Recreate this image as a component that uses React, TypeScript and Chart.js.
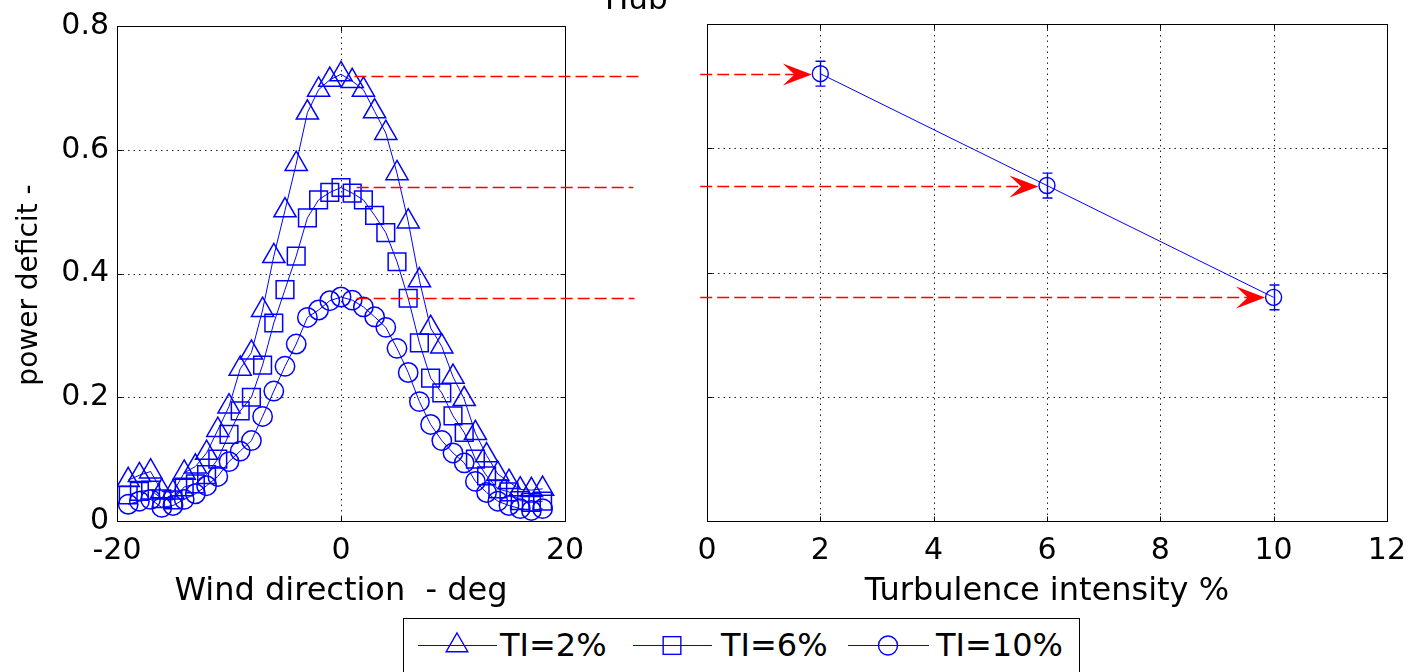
import React, { useEffect, useRef } from "react";
import { Chart, registerables } from "chart.js";

Chart.register(...registerables);

const FONT = '"DejaVu Sans", "Liberation Sans", sans-serif';
const BLUE = "#0000ff";
const RED = "#ff0000";

// ---- left panel: power deficit vs wind direction ----
const windDirection = [-19, -18, -17, -16, -15, -14, -13, -12, -11, -10, -9, -8, -7, -6, -5, -4, -3, -2, -1, 0, 1, 2, 3, 4, 5, 6, 7, 8, 9, 10, 11, 12, 13, 14, 15, 16, 17, 18];
const deficitTI2 = [0.066, 0.074, 0.08, 0.048, 0.046, 0.078, 0.088, 0.11, 0.147, 0.185, 0.246, 0.272, 0.341, 0.428, 0.502, 0.577, 0.66, 0.697, 0.713, 0.722, 0.711, 0.697, 0.662, 0.627, 0.562, 0.484, 0.389, 0.312, 0.282, 0.233, 0.197, 0.142, 0.106, 0.076, 0.063, 0.051, 0.05, 0.052];
const deficitTI6 = [0.042, 0.048, 0.05, 0.036, 0.034, 0.055, 0.06, 0.075, 0.1, 0.14, 0.178, 0.2, 0.252, 0.32, 0.374, 0.428, 0.49, 0.519, 0.531, 0.539, 0.53, 0.519, 0.494, 0.466, 0.419, 0.36, 0.288, 0.231, 0.207, 0.17, 0.143, 0.1, 0.073, 0.052, 0.047, 0.033, 0.03, 0.032];
const deficitTI10 = [0.027, 0.032, 0.035, 0.022, 0.025, 0.035, 0.044, 0.057, 0.072, 0.096, 0.113, 0.13, 0.169, 0.21, 0.25, 0.286, 0.329, 0.341, 0.356, 0.362, 0.357, 0.346, 0.33, 0.313, 0.279, 0.24, 0.193, 0.156, 0.13, 0.11, 0.094, 0.064, 0.046, 0.032, 0.025, 0.02, 0.017, 0.02];
const windTicks = [-20, 0, 20];
const windTickLabels = ["-20", "0", "20"];
const deficitTicks = [0, 0.2, 0.4, 0.6, 0.8];
const deficitTickLabels = ["0", "0.2", "0.4", "0.6", "0.8"];

// ---- right panel: peak deficit vs turbulence intensity ----
const turbulenceIntensity = [2, 6, 10];
const peakDeficit = [0.72, 0.54, 0.36];
const peakDeficitError = [0.02, 0.02, 0.02];
const tiTicks = [0, 2, 4, 6, 8, 10, 12];
const tiTickLabels = ["0", "2", "4", "6", "8", "10", "12"];

// ---- guide arrows (data units of each panel) ----
const guideLeftStart = [1.2, 1.4, 1.4];
const guideLeftEnd = [27, 26.1, 26.2];
const guideRightStart = [-0.12, -0.12, -0.12];

const legendLabels = ["TI=2%", "TI=6%", "TI=10%"];

const px = (v: number) => Math.round(v) + 0.5;

function ys(scales: any, v: number) {
  return Math.round(scales.y.getPixelForValue(v)) + 0.5;
}

const matlabAxesPlugin = {
  id: "matlabAxes",
  beforeDatasetsDraw(chart: any) {
    const { ctx, chartArea: a, scales } = chart;
    const xs = scales.x;
    ctx.save();
    ctx.strokeStyle = "#262626";
    ctx.lineWidth = 1;
    ctx.setLineDash([1.5, 4]);
    for (const t of xs.ticks) {
      const x = px(xs.getPixelForValue(t.value));
      if (x <= a.left + 2 || x >= a.right - 2) continue;
      ctx.beginPath();
      ctx.moveTo(x, a.top);
      ctx.lineTo(x, a.bottom);
      ctx.stroke();
    }
    for (const t of scales.y.ticks) {
      const y = ys(scales, t.value);
      if (y <= a.top + 2 || y >= a.bottom - 2) continue;
      ctx.beginPath();
      ctx.moveTo(a.left, y);
      ctx.lineTo(a.right, y);
      ctx.stroke();
    }
    ctx.restore();
  },
  afterDatasetsDraw(chart: any) {
    const { ctx, chartArea: a, scales } = chart;
    const xs = scales.x;
    const L = px(a.left), R = px(a.right), T = px(a.top), B = px(a.bottom);
    ctx.save();
    ctx.setLineDash([]);
    ctx.strokeStyle = "#000";
    ctx.lineWidth = 1;
    ctx.strokeRect(L, T, R - L, B - T);
    const tl = 5;
    ctx.beginPath();
    for (const t of xs.ticks) {
      const x = px(xs.getPixelForValue(t.value));
      ctx.moveTo(x, B); ctx.lineTo(x, B - tl);
      ctx.moveTo(x, T); ctx.lineTo(x, T + tl);
    }
    for (const t of scales.y.ticks) {
      const y = ys(scales, t.value);
      ctx.moveTo(L, y); ctx.lineTo(L + tl, y);
      ctx.moveTo(R, y); ctx.lineTo(R - tl, y);
    }
    ctx.stroke();
    ctx.restore();
  },
};

const leftGuidesPlugin = {
  id: "leftGuides",
  afterDraw(chart: any) {
    const { ctx, scales } = chart;
    ctx.save();
    ctx.strokeStyle = RED;
    ctx.lineWidth = 1.5;
    ctx.setLineDash([12, 5]);
    peakDeficit.forEach((v, i) => {
      const y = ys(scales, v);
      ctx.beginPath();
      ctx.moveTo(scales.x.getPixelForValue(guideLeftStart[i]), y);
      ctx.lineTo(scales.x.getPixelForValue(guideLeftEnd[i]), y);
      ctx.stroke();
    });
    ctx.restore();
  },
};

const rightExtrasPlugin = {
  id: "rightExtras",
  afterDatasetsDraw(chart: any) {
    const { ctx, scales } = chart;
    ctx.save();
    // error bars
    ctx.strokeStyle = BLUE;
    ctx.lineWidth = 1.4;
    ctx.setLineDash([]);
    turbulenceIntensity.forEach((ti, i) => {
      const x = px(scales.x.getPixelForValue(ti));
      const yTop = scales.y.getPixelForValue(peakDeficit[i] + peakDeficitError[i]);
      const yBot = scales.y.getPixelForValue(peakDeficit[i] - peakDeficitError[i]);
      ctx.beginPath();
      ctx.moveTo(x, yTop); ctx.lineTo(x, yBot);
      ctx.moveTo(x - 5, yTop); ctx.lineTo(x + 5, yTop);
      ctx.moveTo(x - 5, yBot); ctx.lineTo(x + 5, yBot);
      ctx.stroke();
    });
    // guide arrows
    turbulenceIntensity.forEach((ti, i) => {
      const y = ys(scales, peakDeficit[i]);
      const x0 = scales.x.getPixelForValue(guideRightStart[i]);
      const tip = scales.x.getPixelForValue(ti) - 8.5;
      const L = 29, W = 11;
      ctx.strokeStyle = RED;
      ctx.lineWidth = 1.5;
      ctx.setLineDash([12, 5]);
      ctx.beginPath();
      ctx.moveTo(x0, y);
      ctx.lineTo(tip - L * 0.5, y);
      ctx.stroke();
      ctx.setLineDash([]);
      ctx.fillStyle = RED;
      ctx.beginPath();
      ctx.moveTo(tip, y);
      ctx.quadraticCurveTo(tip - L * 0.45, y - W * 0.45, tip - L, y - W);
      ctx.lineTo(tip - L * 0.6, y);
      ctx.lineTo(tip - L, y + W);
      ctx.quadraticCurveTo(tip - L * 0.45, y + W * 0.45, tip, y);
      ctx.closePath();
      ctx.fill();
    });
    ctx.restore();
  },
};

function baseScale(ticks: number[], labels: string[], min: number, max: number, tickSize: number, pad: number) {
  return {
    type: "linear" as const,
    min,
    max,
    afterBuildTicks: (s: any) => {
      s.ticks = ticks.map((v) => ({ value: v }));
    },
    grid: { display: false, drawTicks: false },
    border: { display: false },
    ticks: {
      padding: pad,
      color: "#000",
      font: { family: FONT, size: tickSize },
      maxRotation: 0,
      autoSkip: false,
      callback: (_v: any, i: number) => labels[i],
    },
  };
}

function leftConfig(): any {
  const mk = (label: string, data: number[], style: string, r: number) => ({
    label,
    data: windDirection.map((x, i) => ({ x, y: data[i] })),
    borderColor: BLUE,
    borderWidth: 1,
    pointStyle: style,
    pointRadius: r,
    pointHoverRadius: r,
    pointBorderColor: BLUE,
    pointBorderWidth: 1.5,
    pointBackgroundColor: "rgba(0,0,0,0)",
    fill: false,
    tension: 0,
  });
  return {
    type: "line",
    data: {
      datasets: [
        mk(legendLabels[0], deficitTI2, "triangle", 12.8),
        mk(legendLabels[1], deficitTI6, "rect", 12.5),
        mk(legendLabels[2], deficitTI10, "circle", 9.7),
      ],
    },
    options: {
      responsive: false,
      maintainAspectRatio: false,
      animation: false,
      events: [],
      layout: { padding: { left: 0, top: 24, right: 115, bottom: 51 } },
      plugins: { legend: { display: false }, tooltip: { enabled: false }, title: { display: false } },
      scales: {
        x: {
          ...baseScale(windTicks, windTickLabels, -20, 20, 30, 12),
          afterFit: (s: any) => { s.height = 100; },
          title: {
            display: true,
            text: "Wind direction  - deg",
            color: "#000",
            font: { family: FONT, size: 32 },
            padding: { top: 0, bottom: 10 },
          },
        },
        y: {
          ...baseScale(deficitTicks, deficitTickLabels, 0, 0.8, 30, 8),
          afterFit: (s: any) => { s.width = 117; },
        },
      },
    },
    plugins: [matlabAxesPlugin, leftGuidesPlugin],
  };
}

function rightConfig(): any {
  return {
    type: "line",
    data: {
      datasets: [
        {
          label: "peak deficit",
          data: turbulenceIntensity.map((x, i) => ({ x, y: peakDeficit[i] })),
          borderColor: BLUE,
          borderWidth: 1,
          pointStyle: "circle",
          pointRadius: 8,
          pointHoverRadius: 8,
          pointBorderColor: BLUE,
          pointBorderWidth: 1.4,
          pointBackgroundColor: "rgba(0,0,0,0)",
          fill: false,
          tension: 0,
        },
      ],
    },
    options: {
      responsive: false,
      maintainAspectRatio: false,
      animation: false,
      events: [],
      layout: { padding: { left: 0, top: 24, right: 26, bottom: 51 } },
      plugins: { legend: { display: false }, tooltip: { enabled: false }, title: { display: false } },
      scales: {
        x: {
          ...baseScale(tiTicks, tiTickLabels, 0, 12, 30, 12),
          afterFit: (s: any) => { s.height = 100; },
          title: {
            display: true,
            text: "Turbulence intensity %",
            color: "#000",
            font: { family: FONT, size: 32 },
            padding: { top: 0, bottom: 10 },
          },
        },
        y: {
          ...baseScale(deficitTicks, deficitTickLabels, 0, 0.8, 30, 8),
          ticks: { display: false },
          afterFit: (s: any) => { s.width = 27; },
        },
      },
    },
    plugins: [matlabAxesPlugin, rightExtrasPlugin],
  };
}

export default function App() {
  const leftRef = useRef<HTMLCanvasElement>(null);
  const rightRef = useRef<HTMLCanvasElement>(null);

  useEffect(() => {
    const left = new Chart(leftRef.current as HTMLCanvasElement, leftConfig());
    const right = new Chart(rightRef.current as HTMLCanvasElement, rightConfig());
    return () => {
      left.destroy();
      right.destroy();
    };
  }, []);

  const tri = (cx: number, cy: number, r: number) => {
    const h = r * Math.sqrt(3) / 2;
    return `${cx},${cy - r} ${cx + h},${cy + r / 2} ${cx - h},${cy + r / 2}`;
  };
  const sq = 12.5 * Math.SQRT1_2;

  return (
    <div style={{ position: "fixed", left: 0, top: 0, width: 1418, height: 672, background: "#fff", overflow: "hidden" }}>
      <canvas ref={leftRef} width={680} height={672} style={{ position: "absolute", left: 0, top: 0, width: 680, height: 672 }} />
      <canvas ref={rightRef} width={738} height={672} style={{ position: "absolute", left: 680, top: 0, width: 738, height: 672 }} />
      <svg width={1418} height={672} style={{ position: "absolute", left: 0, top: 0, pointerEvents: "none" }}>
        <text x={605} y={9} fontFamily={FONT} fontSize={31} fill="#000">Hub</text>
        <text transform="translate(37 285) rotate(-90)" textAnchor="middle" fontFamily={FONT} fontSize={28} fill="#000">
          power deficit -
        </text>
        <g transform="translate(403 618)">
          <rect x={0.5} y={0.5} width={676} height={90} fill="#fff" stroke="#000" strokeWidth={1} />
          <line x1={15} y1={27.5} x2={94} y2={27.5} stroke={BLUE} strokeWidth={1} />
          <polygon points={tri(54, 27.5, 12.5)} fill="none" stroke={BLUE} strokeWidth={1.4} />
          <text x={97} y={38} fontFamily={FONT} fontSize={32} fill="#000">{legendLabels[0]}</text>
          <line x1={230} y1={27.5} x2={309} y2={27.5} stroke={BLUE} strokeWidth={1} />
          <rect x={269 - sq} y={27.5 - sq} width={2 * sq} height={2 * sq} fill="none" stroke={BLUE} strokeWidth={1.4} />
          <text x={318} y={38} fontFamily={FONT} fontSize={32} fill="#000">{legendLabels[1]}</text>
          <line x1={445} y1={27.5} x2={526} y2={27.5} stroke={BLUE} strokeWidth={1} />
          <circle cx={485} cy={27.5} r={9.5} fill="none" stroke={BLUE} strokeWidth={1.4} />
          <text x={533} y={38} fontFamily={FONT} fontSize={32} fill="#000">{legendLabels[2]}</text>
        </g>
      </svg>
    </div>
  );
}
